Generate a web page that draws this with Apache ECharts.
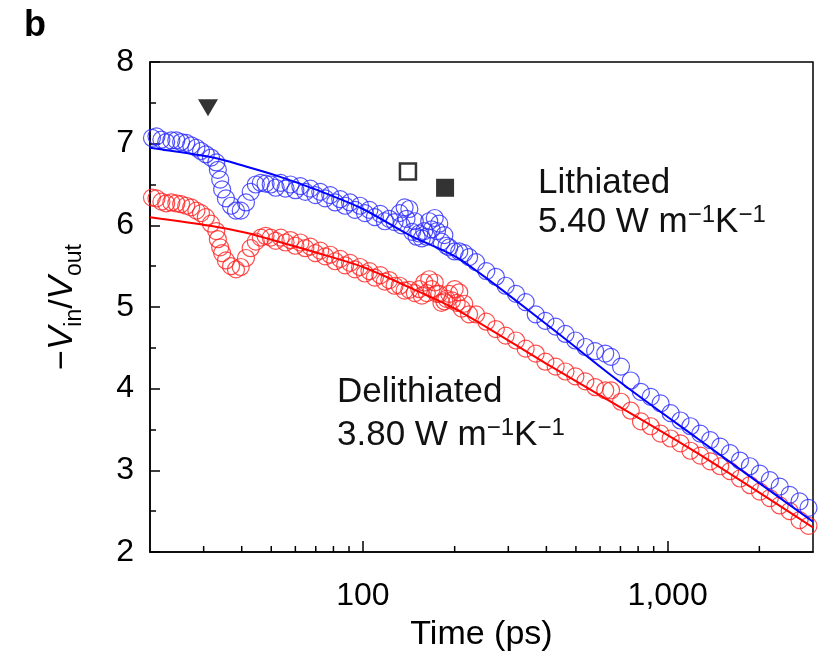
<!DOCTYPE html>
<html><head><meta charset="utf-8">
<script src="https://cdn.jsdelivr.net/npm/echarts@6/dist/echarts.min.js"></script>
<style>html,body{margin:0;padding:0;background:#fff}#c{width:819px;height:658px}</style>
</head><body><div id="c"></div>
<script>
// ---- data ----
const blueT = [20.3,21.0,21.8,22.6,23.5,24.4,25.3,26.3,27.3,28.4,29.4,30.5,31.7,33.0,33.4,34.0,34.5,35.5,36.9,38.3,39.7,41.3,42.8,44.5,46.2,47.9,49.8,51.7,53.7,55.7,57.8,60.0,62.3,64.7,67.2,69.8,72.4,75.2,78.1,81.1,84.2,87.4,90.7,94.2,97.8,101.5,105,109.4,114,118,122,127,132,134,137,139,142,145,148,150,153,156,159,162,165,168,172,175,178,181,185,188,192,200,207,215,223,235,254,273,294,318,342,369,397,429,462,498,537,578,624,652,703,757,817,880,948,1023,1102,1188,1280,1380,1488,1603,1728,1862,2008,2165,2333,2515,2710,2900];
const blueV = [7.07,7.09,7.05,7.02,7.04,7.04,7.02,7.01,6.98,6.95,6.91,6.87,6.83,6.77,6.68,6.56,6.44,6.33,6.24,6.18,6.18,6.28,6.41,6.50,6.52,6.51,6.50,6.46,6.52,6.45,6.50,6.43,6.48,6.41,6.45,6.37,6.41,6.33,6.37,6.28,6.32,6.24,6.28,6.19,6.24,6.15,6.19,6.10,6.14,6.05,6.08,6.04,6.15,6.00,6.22,6.08,6.20,5.92,6.05,5.86,5.90,5.84,5.93,5.86,6.05,5.95,6.09,5.93,6.02,5.80,5.88,5.75,5.73,5.68,5.68,5.66,5.61,5.55,5.44,5.37,5.26,5.16,5.06,4.91,4.83,4.76,4.67,4.59,4.51,4.46,4.43,4.39,4.27,4.10,3.96,3.90,3.82,3.70,3.61,3.54,3.45,3.37,3.29,3.21,3.12,3.05,2.96,2.88,2.80,2.70,2.62,2.54];
const redT = [20.3,21.0,21.8,22.6,23.5,24.4,25.3,26.3,27.3,28.4,29.4,30.5,31.7,33.0,33.4,34.0,34.5,35.5,36.9,38.3,39.7,41.3,42.8,44.5,46.2,47.9,49.8,51.7,53.7,55.7,57.8,60.0,62.3,64.7,67.2,69.8,72.4,75.2,78.1,81.1,84.2,87.4,90.7,94.2,97.8,101.5,105,109.4,114,118,122,127,132,137,142,148,153,156,159,162,165,168,172,175,178,181,185,188,192,196,200,203,207,211,215,223,235,254,273,294,318,342,369,397,429,462,498,537,578,624,652,703,757,817,880,948,1023,1102,1188,1280,1380,1488,1603,1728,1862,2008,2165,2333,2515,2710,2900];
const redV = [6.34,6.33,6.29,6.27,6.28,6.27,6.26,6.24,6.22,6.18,6.15,6.10,6.02,5.93,5.83,5.73,5.66,5.57,5.50,5.46,5.49,5.60,5.72,5.80,5.85,5.87,5.85,5.81,5.85,5.79,5.82,5.75,5.79,5.72,5.74,5.66,5.69,5.62,5.64,5.56,5.59,5.51,5.54,5.46,5.49,5.41,5.44,5.36,5.39,5.31,5.33,5.26,5.26,5.20,5.21,5.17,5.22,5.14,5.30,5.17,5.34,5.22,5.30,5.16,5.16,5.05,5.07,5.10,5.16,5.08,5.22,5.05,5.18,4.98,5.04,4.91,4.91,4.82,4.73,4.65,4.59,4.49,4.43,4.33,4.27,4.21,4.15,4.09,4.02,3.98,3.98,3.84,3.73,3.60,3.54,3.45,3.39,3.33,3.24,3.18,3.11,3.05,2.99,2.90,2.82,2.74,2.66,2.57,2.50,2.39,2.32];
const fitT = [20,32.2,41.3,52.9,69.8,100,142,207,406,687,1253,3000];
const blueFitV = [6.95,6.83,6.72,6.60,6.44,6.20,5.88,5.59,4.77,4.10,3.39,2.37];
const redFitV = [6.10,5.99,5.91,5.80,5.67,5.49,5.24,4.95,4.29,3.79,3.21,2.30];
const xMajorTicks = [100, 1000];
const xMinorTicks = [30,40,50,60,70,80,90,200,300,400,500,600,700,800,900,2000];
const markerDown = [[31.0, 7.44]];
const markerOpenSq = [[140.5, 6.66]];
const markerFilledSq = [[186, 6.46]];

const F = "'Liberation Sans', Arial, Helvetica, sans-serif";
const chart = echarts.init(document.getElementById('c'), null, {renderer: 'canvas'});
const zip = (a, b) => a.map((t, i) => [t, b[i]]);

const option = {
  animation: false,
  backgroundColor: '#fff',
  textStyle: {fontFamily: F},
  grid: {left: 150, right: 6, top: 62, bottom: 106, show: true, borderColor: '#000', borderWidth: 1.5, backgroundColor: 'transparent'},
  xAxis: {
    type: 'log', logBase: 10, min: 20, max: 3000,
    axisLine: {show: true, lineStyle: {color: '#000', width: 1.5}},
    axisTick: {show: true, inside: true, length: 11, lineStyle: {color: '#000', width: 1.5}},
    axisLabel: {
      fontSize: 32, color: '#000', margin: 28, fontFamily: F,
      showMinLabel: false, showMaxLabel: false,
      formatter: v => {
        const r = Math.round(v);
        if (r === xMajorTicks[0]) return '100';
        if (r === xMajorTicks[1]) return '1,000';
        return '';
      }
    },
    splitLine: {show: false},
    minorTick: {show: false},
    name: 'Time (ps)', nameLocation: 'middle', nameGap: 66,
    nameTextStyle: {fontSize: 34, color: '#000', fontFamily: F}
  },
  yAxis: {
    type: 'value', min: 2, max: 8, interval: 1,
    axisLine: {show: true, lineStyle: {color: '#000', width: 1.5}},
    axisTick: {show: true, inside: true, length: 10, lineStyle: {color: '#000', width: 1.5}},
    minorTick: {show: true, splitNumber: 2, length: 6, lineStyle: {color: '#000', width: 1.5}},
    axisLabel: {fontSize: 32, color: '#000', margin: 16, fontFamily: F},
    splitLine: {show: false},
    name: '−{i|V}{s|in}/{i|V}{s|out}', nameLocation: 'middle', nameGap: 64,
    nameTextStyle: {
      fontSize: 34, color: '#000', fontFamily: F,
      rich: {
        i: {fontSize: 35, fontStyle: 'italic', fontFamily: F, color: '#000'},
        s: {fontSize: 23, fontFamily: F, color: '#000', padding: [24, 0, 0, 0]}
      }
    }
  },
  graphic: [
    {type: 'text', left: 24, top: 8, style: {text: 'b', font: 'bold 36px ' + F, fill: '#000'}},
    {type: 'text', x: 538, y: 183, style: {text: 'Lithiated', fontSize: 35, fontFamily: F, fill: '#111', verticalAlign: 'middle'}},
    {type: 'text', x: 538, y: 222, style: {text: '5.40 W m{p|−1}K{p|−1}', fontSize: 35, fontFamily: F, fill: '#111', verticalAlign: 'middle',
      rich: {p: {fontSize: 24, fontFamily: F, fill: '#111', padding: [0, 0, 14, 0]}}}},
    {type: 'text', x: 337, y: 392, style: {text: 'Delithiated', fontSize: 35, fontFamily: F, fill: '#111', verticalAlign: 'middle'}},
    {type: 'text', x: 337, y: 435, style: {text: '3.80 W m{p|−1}K{p|−1}', fontSize: 35, fontFamily: F, fill: '#111', verticalAlign: 'middle',
      rich: {p: {fontSize: 24, fontFamily: F, fill: '#111', padding: [0, 0, 14, 0]}}}}
  ],
  series: [
    {type: 'scatter', name: 'Delithiated', data: zip(redT, redV), symbol: 'circle', symbolSize: 17,
      itemStyle: {color: 'rgba(255,255,255,0)', borderColor: '#ff2020', borderWidth: 1.2}, z: 2, clip: false},
    {type: 'scatter', name: 'Lithiated', data: zip(blueT, blueV), symbol: 'circle', symbolSize: 17,
      itemStyle: {color: 'rgba(255,255,255,0)', borderColor: '#2a2aff', borderWidth: 1.2}, z: 3, clip: false},
    {type: 'line', data: zip(fitT, redFitV), smooth: 0.3, showSymbol: false, symbol: 'none',
      lineStyle: {color: '#ff0000', width: 2}, z: 5},
    {type: 'line', data: zip(fitT, blueFitV), smooth: 0.3, showSymbol: false, symbol: 'none',
      lineStyle: {color: '#0000ff', width: 2}, z: 6},
    {type: 'scatter', data: markerDown, symbol: 'triangle', symbolRotate: 180, symbolSize: [20, 17],
      itemStyle: {color: '#000'}, z: 7},
    {type: 'scatter', data: markerOpenSq, symbol: 'rect', symbolSize: 16,
      itemStyle: {color: '#fff', borderColor: '#000', borderWidth: 2.5}, z: 7},
    {type: 'scatter', data: markerFilledSq, symbol: 'rect', symbolSize: 18,
      itemStyle: {color: '#000'}, z: 7},
    {type: 'custom', data: xMinorTicks.map(t => [t, 2]), silent: true, z: 10, clip: false,
      renderItem: (params, api) => {
        const p = api.coord([api.value(0), api.value(1)]);
        return {type: 'line', shape: {x1: p[0], y1: p[1], x2: p[0], y2: p[1] - 6},
          style: {stroke: '#000', lineWidth: 1.5}};
      }}
  ]
};
chart.setOption(option);
</script>
</body></html>
